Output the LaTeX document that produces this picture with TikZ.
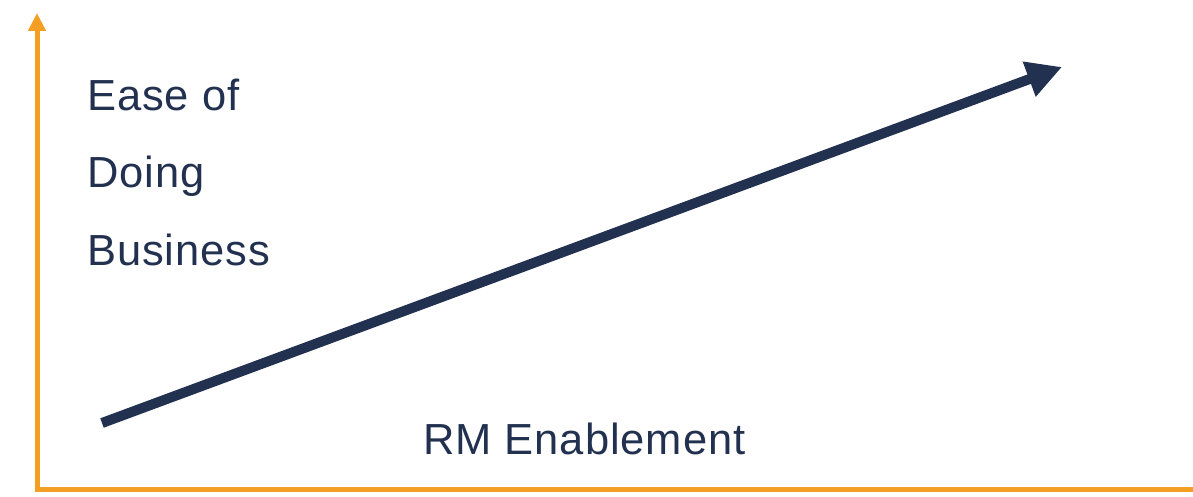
\documentclass[tikz,border=0pt]{standalone}
\usepackage{fontspec}
\setmainfont{Liberation Sans}
\newfontfamily\labelfont[LetterSpace=2.2]{Liberation Sans}
\usetikzlibrary{arrows.meta}
\definecolor{axisorange}{HTML}{F49E24}
\definecolor{navy}{HTML}{22314F}
\begin{document}
\begin{tikzpicture}[x=1pt,y=-1pt,
  axisline/.style={draw=axisorange,line width=5pt,line join=miter,
    -{Triangle[width=17pt,length=18pt]}},
  trendarrow/.style={draw=navy,line width=10pt,line cap=butt,
    -{Triangle[width=35pt,length=35pt]}},
  label/.style={anchor=base west,inner sep=0pt,text=navy,
    font=\labelfont\fontsize{43.5}{77}\selectfont}]
  \useasboundingbox (0,0) rectangle (1193,497);
  % axes
  \coordinate (xend) at (1196,489);
  \coordinate (origin) at (37,489);
  \coordinate (ytop) at (37,13);
  \draw[axisline] (xend) -- (origin) -- (ytop);
  % rising trend
  \coordinate (trendstart) at (102,423);
  \coordinate (trendtip) at (1062,67);
  \draw[trendarrow] (trendstart) -- (trendtip);
  % axis labels
  \node[label] (ylabA) at (87,111) {Ease of};
  \node[label] (ylabB) at (87,188) {Doing};
  \node[label] (ylabC) at (87,265) {Business};
  \node[label] (xlab) at (423,454) {RM Enablement};
\end{tikzpicture}
\end{document}
